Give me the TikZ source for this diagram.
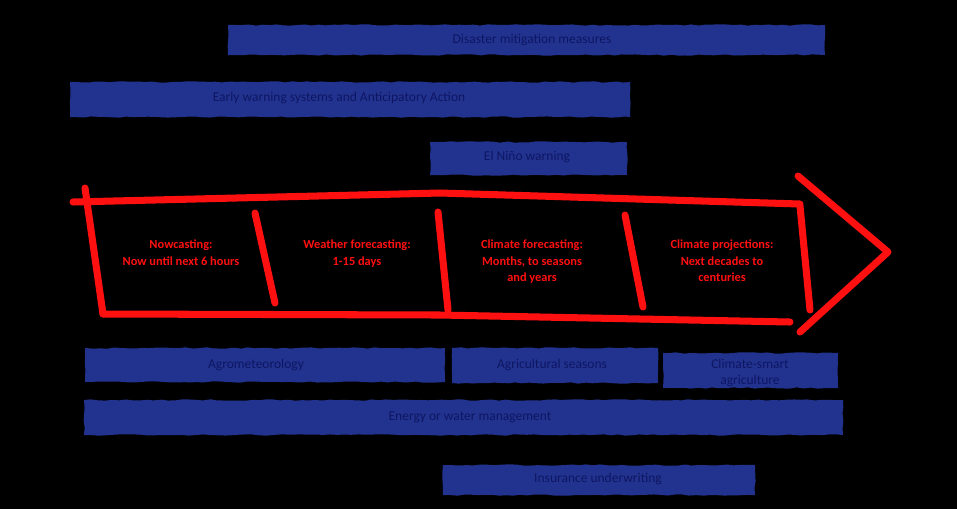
\documentclass[tikz,border=0pt]{standalone}
\usepackage{fontspec}
\setmainfont{Carlito}
\usepackage{xcolor}
\usetikzlibrary{positioning, decorations.pathmorphing}
\definecolor{barblue}{HTML}{22338F}
\definecolor{bartext}{HTML}{0E1663}
\definecolor{timered}{HTML}{FF1010}

\begin{document}
\begin{tikzpicture}[x=0.025cm, y=-0.025cm, font=\fontsize{9.6}{11}\selectfont,
  bar/.style={fill=barblue, decorate, decoration={random steps, segment length=5pt, amplitude=0.5pt}},
  bartxt/.style={text=bartext, align=center, inner sep=1pt},
  span/.style={text=timered, align=center, anchor=north, inner sep=0pt,
    font=\fontsize{8.8}{11.7}\selectfont\bfseries},
  pen/.style={draw=timered, line width=5pt, line cap=round, line join=round}]
\fill[black] (0,0) rectangle (957,509);
% bars above the time line
\fill[bar] (228,25) rectangle (825,55);
\node[bartxt] (dis) at (532,40) {Disaster mitigation measures};
\fill[bar] (70,82) rectangle (630,117);
\node[bartxt] (ews) at (339,98) {Early warning systems and Anticipatory Action};
\fill[bar] (430,142) rectangle (627,175);
\node[bartxt] (nino) at (527,157) {El Niño warning};
% time line arrow
\draw[pen] (73,202) -- (440,193) -- (800,204);
\draw[pen] (85,188) -- (103,314);
\draw[pen] (103,314) -- (440,315) -- (790,322);
\draw[pen] (800,206) -- (810,310);
\draw[pen] (798,176) -- (888,252) -- (800,332);
\draw[pen] (255,213) -- (275,303);
\draw[pen] (438,212) -- (448,310);
\draw[pen] (625,215) -- (643,307);
\node[span] (now) at (181,240) {Nowcasting:\\Now until next 6 hours};
\node[span] (wea) at (357,240) {Weather forecasting:\\1-15 days};
\node[span] (cli) at (532,240) {Climate forecasting:\\Months, to seasons\\and years};
\node[span] (pro) at (722,240) {Climate projections:\\Next decades to\\centuries};
% bars below the time line
\fill[bar] (85,348) rectangle (445,382);
\node[bartxt] (agro) at (256,365) {Agrometeorology};
\fill[bar] (452,348) rectangle (658,383);
\node[bartxt] (seas) at (552,365) {Agricultural seasons};
\fill[bar] (663,353) rectangle (838,388);
\node[bartxt, font=\fontsize{9.6}{12}\selectfont] (csa) at (750,373) {Climate-smart\\agriculture};
\fill[bar] (84,400) rectangle (843,435);
\node[bartxt] (ener) at (470,417) {Energy or water management};
\fill[bar] (443,465) rectangle (755,495);
\node[bartxt] (ins) at (598,479) {Insurance underwriting};
\end{tikzpicture}
\end{document}
